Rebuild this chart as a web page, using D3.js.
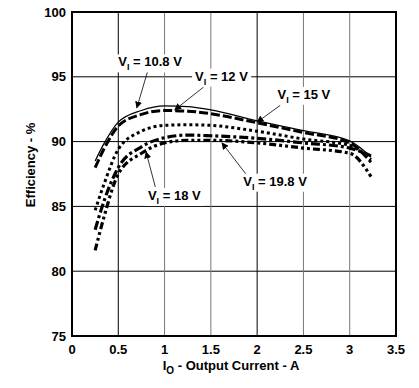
<!DOCTYPE html>
<html>
<head>
<meta charset="utf-8">
<script src="https://cdn.jsdelivr.net/npm/d3@7"></script>
<style>
  body { margin: 0; background: #fff; }
  svg text { font-family: "Liberation Sans", Arial, sans-serif; font-weight: bold; }
</style>
</head>
<body>
<svg id="chart" width="419" height="388"></svg>
<script>
// current points (A) shared by every curve
let currents = [0.25, 0.35, 0.5, 0.75, 1, 1.25, 1.5, 2, 2.5, 3, 3.23];

// efficiency (%) per input voltage
let eff108 = [88.5, 89.9, 91.5, 92.4, 92.75, 92.7, 92.45, 91.6, 90.85, 90.05, 88.8];
let eff12  = [88.0, 89.5, 91.2, 92.1, 92.4, 92.35, 92.15, 91.45, 90.7, 89.9, 88.4];
let eff15  = [84.7, 86.8, 89.4, 90.8, 91.25, 91.3, 91.25, 90.8, 90.2, 89.7, 88.6];
let eff18  = [83.2, 85.5, 88.0, 89.6, 90.3, 90.5, 90.45, 90.25, 89.9, 89.5, 88.9];
let eff198 = [81.6, 84.3, 87.5, 89.1, 89.9, 90.1, 90.1, 89.9, 89.5, 89.1, 87.3];

let xTicks = [0, 0.5, 1, 1.5, 2, 2.5, 3, 3.5];
let yTicks = [75, 80, 85, 90, 95, 100];

// label text, anchor of text (data units), arrow from -> to (data units)
let labelNames = ["10.8", "12", "15", "18", "19.8"];
let labelPos   = [[0.5, 95.8], [1.33, 94.7], [2.22, 93.3], [0.82, 85.5], [1.85, 86.6]];
let arrowFrom  = [[0.82, 95.5], [1.42, 94.2], [2.25, 92.8], [0.9, 86.5], [1.9, 87.3]];
let arrowTo    = [[0.7, 92.6], [1.11, 92.45], [2.0, 91.5], [0.8, 89.2], [1.62, 89.9]];

let chart = d3.select("#chart");

// position scales
let x = d3.scaleLinear().domain([0, 3.5]).range([72, 396]);
let y = d3.scaleLinear().domain([75, 100]).range([336, 12]);

// grid
chart.selectAll("line.hgrid")
  .data(yTicks.slice(1, -1)).enter()
  .append("line")
    .attr("x1", x(0)).attr("x2", x(3.5))
    .attr("y1", d => y(d)).attr("y2", d => y(d))
    .attr("stroke", "#000").attr("stroke-width", 1);

chart.selectAll("line.vgrid")
  .data(xTicks.slice(1, -1)).enter()
  .append("line")
    .attr("x1", d => x(d)).attr("x2", d => x(d))
    .attr("y1", y(75)).attr("y2", y(100))
    .attr("stroke", d => (d == 0.5 || d == 2) ? "#000" : "#777")
    .attr("stroke-width", 1);

// tick labels
chart.selectAll("text.ytick")
  .data(yTicks).enter()
  .append("text")
    .attr("x", 66).attr("y", d => y(d) + 4.5)
    .attr("text-anchor", "end")
    .attr("font-size", 13)
    .text(d => d);

chart.selectAll("text.xtick")
  .data(xTicks).enter()
  .append("text")
    .attr("x", d => x(d)).attr("y", 354)
    .attr("text-anchor", "middle")
    .attr("font-size", 13)
    .text(d => d);

// axis titles
let xt = chart.append("text")
  .attr("x", 231).attr("y", 370)
  .attr("text-anchor", "middle")
  .attr("font-size", 13);
xt.append("tspan").text("I");
xt.append("tspan").attr("dy", 4).attr("font-size", 10).text("O");
xt.append("tspan").attr("dy", -4).text(" - Output Current - A");

chart.append("text")
  .attr("transform", "translate(35," + y(88.2) + ") rotate(-90)")
  .attr("text-anchor", "middle")
  .attr("font-size", 13)
  .text("Efficiency - %");

// curves
let series = [
  { vals: eff108, width: 1.3, dash: null },
  { vals: eff12,  width: 3,   dash: "9,3" },
  { vals: eff15,  width: 3,   dash: "3,3" },
  { vals: eff18,  width: 3.2, dash: "9,3,3,3" },
  { vals: eff198, width: 3.2, dash: "7,3,3,3,3,3" }
];

let line = d3.line()
  .x(d => x(d[0]))
  .y(d => y(d[1]))
  .curve(d3.curveMonotoneX);

chart.selectAll("path.curve")
  .data(series).enter()
  .append("path")
    .attr("d", s => line(currents.map((c, i) => [c, s.vals[i]])))
    .attr("fill", "none")
    .attr("stroke", "#000")
    .attr("stroke-width", s => s.width)
    .attr("stroke-dasharray", s => s.dash);

// arrows
chart.append("defs").append("marker")
  .attr("id", "head")
  .attr("viewBox", "0 0 10 10")
  .attr("refX", 9).attr("refY", 5)
  .attr("markerWidth", 7).attr("markerHeight", 7)
  .attr("markerUnits", "userSpaceOnUse")
  .attr("orient", "auto")
  .append("path").attr("d", "M0,0 L10,5 L0,10 z").attr("fill", "#000");

chart.selectAll("line.arrow")
  .data(labelNames).enter()
  .append("line")
    .attr("x1", (d, i) => x(arrowFrom[i][0])).attr("y1", (d, i) => y(arrowFrom[i][1]))
    .attr("x2", (d, i) => x(arrowTo[i][0])).attr("y2", (d, i) => y(arrowTo[i][1]))
    .attr("stroke", "#000").attr("stroke-width", 0.8)
    .attr("marker-end", "url(#head)");

// labels with white backing
let labels = chart.selectAll("g.lab")
  .data(labelNames).enter()
  .append("g")
    .attr("transform", (d, i) => "translate(" + x(labelPos[i][0]) + "," + y(labelPos[i][1]) + ")");

let texts = labels.append("text")
  .attr("font-size", 13);
texts.append("tspan").text("V");
texts.append("tspan").attr("dy", 4).attr("font-size", 9).text("I");
texts.append("tspan").attr("dy", -4).text(d => " = " + d + " V");

labels.each(function() {
  let g = d3.select(this);
  let bb = g.select("text").node().getBBox();
  g.insert("rect", "text")
    .attr("x", bb.x - 3).attr("y", bb.y)
    .attr("width", bb.width + 6).attr("height", bb.height)
    .attr("fill", "#fff");
});

// frame
chart.append("rect")
  .attr("x", x(0)).attr("y", y(100))
  .attr("width", x(3.5) - x(0)).attr("height", y(75) - y(100))
  .attr("fill", "none").attr("stroke", "#000").attr("stroke-width", 2);
</script>
</body>
</html>
